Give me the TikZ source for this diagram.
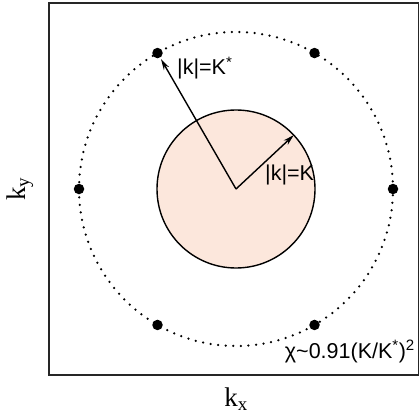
\documentclass[tikz,border=0pt]{standalone}
\usepackage{fontspec}
\setmainfont{Liberation Sans}
\newfontfamily\axisfont{Liberation Serif}
\usetikzlibrary{arrows.meta,calc}
\definecolor{innerfill}{RGB}{252,231,220}
\tikzset{
  frameline/.style={draw=black!85, line width=1.3pt},
  dotring/.style={draw=black, line width=2.5pt, line cap=round, dash pattern=on 0pt off 7.6pt},
  bigdot/.style={circle, fill=black, inner sep=0pt, minimum size=10.5pt},
  vec/.style={draw=black, line width=1.4pt, -{Stealth[length=11pt,width=6pt]}},
  lbl/.style={font=\fontsize{21.5}{21.5}\selectfont, inner sep=0pt},
  axlbl/.style={font=\axisfont\fontsize{27}{27}\selectfont, inner sep=0pt}
}
\begin{document}
\begin{tikzpicture}[x=1pt,y=1pt]
\useasboundingbox (0,0) rectangle (419,418);
\coordinate (c) at (236,229);
\draw[frameline] (49,43) rectangle (418.5,415);
\fill[innerfill] (c) circle (79);
\draw[black, line width=1.4pt] (c) circle (79);
\draw[dotring] (c) circle (157);
\foreach \a/\n in {0/d0,60/d60,120/d120,180/d180,240/d240,300/d300}{
  \node[bigdot] (\n) at ($(c)+(\a:157)$) {};
}
\coordinate (t1) at ($(c)+(120:150)$);
\coordinate (t2) at ($(c)+(43:79)$);
\draw[vec] (c) -- (t1);
\draw[vec] (c) -- (t2);
\node[lbl, anchor=base west] (l1) at (177,343) {|k|=K\textsuperscript{*}};
\node[lbl, anchor=base west] (l2) at (265,238) {|k|=K};
\node[lbl, anchor=base east] (l3) at (415,60) {χ\textasciitilde0.91(K/K\textsuperscript{*})\textsuperscript{2}};
\node[axlbl] (kx) at (236,19) {k\textsubscript{x}};
\node[axlbl, rotate=90] (ky) at (20,229) {k\textsubscript{y}};
\end{tikzpicture}
\end{document}
